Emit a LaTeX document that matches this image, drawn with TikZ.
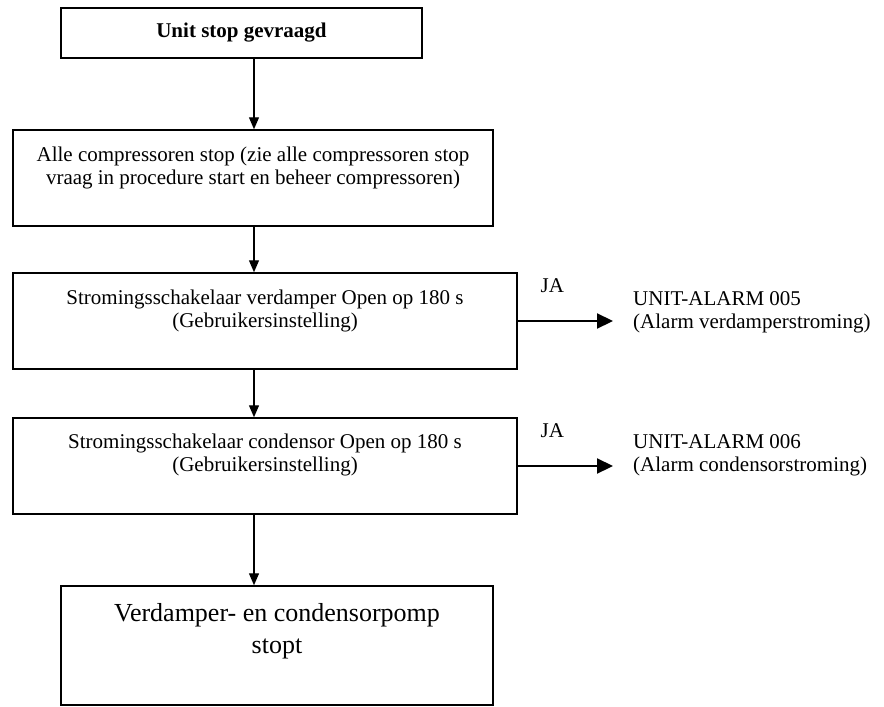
\documentclass[tikz,border=0pt]{standalone}
\usepackage{fontspec}
\setmainfont{Liberation Serif}
\usetikzlibrary{arrows.meta, positioning}

\begin{document}
\begin{tikzpicture}[x=1pt, y=1pt,
  every node/.style={inner sep=0pt, font=\fontsize{21}{23}\selectfont},
  kader/.style={draw, line width=1.5pt},
  kadertekst/.style={align=center},
  pijl/.style={line width=1.3pt, -{Triangle[length=12pt, width=10pt]}},
  japijl/.style={line width=2.2pt, -{Triangle[length=16pt, width=15pt]}, shorten >=20pt},
  melding/.style={align=left, anchor=north west}]
  \useasboundingbox (0,0) rectangle (884,-707);

  % hoofdlijn van de pijlen
  \coordinate (as) at (254,0);

  % Unit stop gevraagd
  \node[kader, minimum width=361pt, minimum height=50pt, font=\bfseries\fontsize{21}{23}\selectfont] (unit) at (241.5,-33) {Unit stop gevraagd};

  % alle compressoren stop
  \node[kader, minimum width=480pt, minimum height=96pt] (alle) at (253,-178) {};
  \node[kadertekst, below=17pt of alle.north] (alletekst) {Alle compressoren stop (zie alle compressoren stop\\vraag in procedure start en beheer compressoren)};

  % stromingsschakelaars
  \node[kader, minimum width=504pt, minimum height=96pt] (verd) at (265,-321) {};
  \node[kadertekst, below=17pt of verd.north] (verdtekst) {Stromingsschakelaar verdamper Open op 180 s\\(Gebruikersinstelling)};
  \node[kader, minimum width=504pt, minimum height=96pt] (cond) at (265,-466) {};
  \node[kadertekst, below=16pt of cond.north] (condtekst) {Stromingsschakelaar condensor Open op 180 s\\(Gebruikersinstelling)};

  % pompen stoppen
  \node[kader, minimum width=432pt, minimum height=119pt] (pomp) at (277,-645.5) {};
  \node[kadertekst, below=18pt of pomp.north, font=\fontsize{26}{32}\selectfont] (pomptekst) {Verdamper- en condensorpomp\\stopt};

  % alarmen
  \node[melding] (alarm1) at (633,-291) {UNIT-ALARM 005\\(Alarm verdamperstroming)};
  \node[melding] (alarm2) at (633,-434) {UNIT-ALARM 006\\(Alarm condensorstroming)};

  % pijlen
  \draw[pijl] (unit.south -| as) -- (alle.north -| as);
  \draw[pijl] (alle.south -| as) -- (verd.north -| as);
  \draw[pijl] (verd.south -| as) -- (cond.north -| as);
  \draw[pijl] (cond.south -| as) -- (pomp.north -| as);
  \draw[japijl] (verd.east) -- (verd.east -| alarm1.west) node[pos=0.3, above=27pt] (ja1) {JA};
  \draw[japijl] (cond.east) -- (cond.east -| alarm2.west) node[pos=0.3, above=27pt] (ja2) {JA};
\end{tikzpicture}
\end{document}
